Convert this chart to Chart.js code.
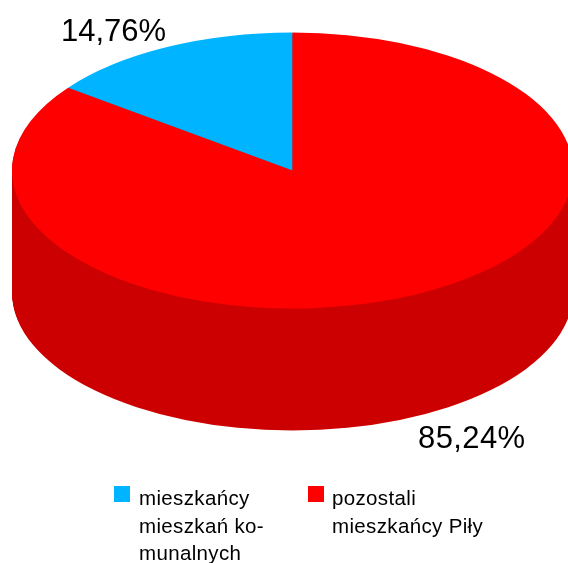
<!DOCTYPE html>
<html>
<head>
<meta charset="utf-8">
<style>
    html, body { margin: 0; padding: 0; background: #fff; overflow: hidden; }
    canvas { display: block; }
</style>
<script src="https://cdn.jsdelivr.net/npm/chart.js@4/dist/chart.umd.min.js"></script>
</head>
<body>
<canvas id="pie" width="568" height="563"></canvas>
<script>
// --- Data ---
const categories = ['mieszkańcy mieszkań komunalnych', 'pozostali mieszkańcy Piły'];
const shares = [14.76, 85.24];
const shareLabels = ['14,76%', '85,24%'];
const legendLines = [['mieszkańcy', 'mieszkań ko-', 'munalnych'], ['pozostali', 'mieszkańcy Piły']];
const topColors = ['#00b4ff', '#ff0000'];
const sideColors = ['#0090cc', '#cc0000'];

// --- Fake 3D: squash the pie into an ellipse and stack a darker copy under it ---
const tilt = { x: 292.5, y: 170.5, rx: 280.5, ry: 138, depth: 122 };

function applyTilt(ctx, arc, offsetY) {
    ctx.translate(tilt.x, tilt.y + offsetY);
    ctx.scale(tilt.rx / arc.outerRadius, tilt.ry / arc.outerRadius);
    ctx.translate(-arc.x, -arc.y);
}

const tiltPlugin = {
    id: 'tilt',
    beforeDatasetsDraw(chart) {
        const ctx = chart.ctx;
        const arcs = chart.getDatasetMeta(0).data;
        for (let d = tilt.depth; d > 0; d--) {
            arcs.forEach((arc, i) => {
                ctx.save();
                applyTilt(ctx, arc, d);
                ctx.fillStyle = sideColors[i];
                ctx.beginPath();
                ctx.moveTo(arc.x, arc.y);
                ctx.arc(arc.x, arc.y, arc.outerRadius, arc.startAngle, arc.endAngle);
                ctx.closePath();
                ctx.fill();
                ctx.restore();
            });
        }
        ctx.save();
        applyTilt(ctx, arcs[0], 0);
    },
    afterDatasetsDraw(chart) {
        chart.ctx.restore();
    }
};

// --- Percent labels and the two-column legend ---
const labelPlugin = {
    id: 'labels',
    afterDraw(chart) {
        const ctx = chart.ctx;
        ctx.save();
        ctx.fillStyle = '#000';
        ctx.textBaseline = 'alphabetic';
        ctx.font = '31px "Liberation Sans", Arial, sans-serif';
        ctx.fillText(shareLabels[0], 61, 41);
        ctx.letterSpacing = '0.4px';
        ctx.fillText(shareLabels[1], 418, 448);

        ctx.font = '20.5px "Liberation Sans", Arial, sans-serif';
        ctx.letterSpacing = '0.35px';
        [114, 308].forEach((x, i) => {
            ctx.fillStyle = topColors[i];
            ctx.fillRect(x, 486, 16, 16);
            ctx.fillStyle = '#000';
            legendLines[i].forEach((line, n) => {
                ctx.fillText(line, x + 25 - i, 505 + n * 27.5);
            });
        });
        ctx.restore();
    }
};

new Chart(document.getElementById('pie'), {
    type: 'pie',
    data: {
        labels: categories,
        datasets: [{
            data: shares,
            backgroundColor: topColors,
            borderWidth: 0
        }]
    },
    options: {
        responsive: false,
        animation: false,
        rotation: -53.136,
        plugins: {
            legend: { display: false },
            tooltip: { enabled: false }
        }
    },
    plugins: [tiltPlugin, labelPlugin]
});
</script>
</body>
</html>
